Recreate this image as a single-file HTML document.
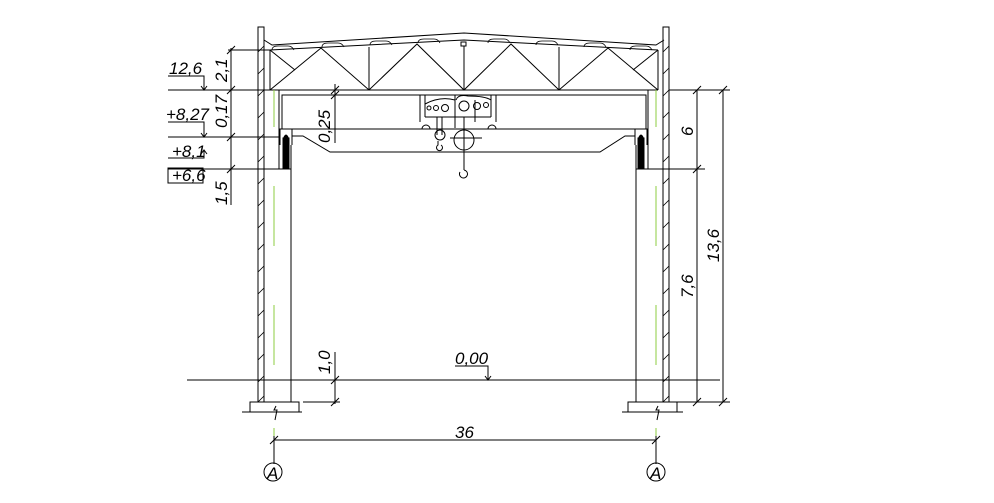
<!DOCTYPE html>
<html><head><meta charset="utf-8"><style>
html,body{margin:0;padding:0;background:#fff}
svg{display:block}
text{font-family:"Liberation Sans",sans-serif;font-style:italic;font-size:17px;fill:#000}
</style></head><body>
<svg width="994" height="503" viewBox="0 0 994 503" xmlns="http://www.w3.org/2000/svg">
<g stroke="#000" stroke-width="1" fill="none">
<!-- walls -->
<rect x="258" y="27" width="6" height="375"/>
<rect x="663" y="27" width="6" height="375"/>
<g stroke-width="0.8">
<path d="M258,52 l6,-6 M258,74 l6,-6 M258,96 l6,-6 M258,118 l6,-6 M258,140 l6,-6 M258,162 l6,-6 M258,184 l6,-6 M258,206 l6,-6 M258,228 l6,-6 M258,250 l6,-6 M258,272 l6,-6 M258,294 l6,-6 M258,316 l6,-6 M258,338 l6,-6 M258,360 l6,-6 M258,382 l6,-6 M258,402 l6,-6"/>
<path d="M663,52 l6,-6 M663,74 l6,-6 M663,96 l6,-6 M663,118 l6,-6 M663,140 l6,-6 M663,162 l6,-6 M663,184 l6,-6 M663,206 l6,-6 M663,228 l6,-6 M663,250 l6,-6 M663,272 l6,-6 M663,294 l6,-6 M663,316 l6,-6 M663,338 l6,-6 M663,360 l6,-6 M663,382 l6,-6 M663,402 l6,-6"/>
</g>
<!-- columns -->
<path d="M264,169 H291 V402 M279,90 V169 M291,145 V169"/>
<path d="M663,169 H636 V402 M648,90 V169 M636,145 V169"/>
<!-- crane rail boxes -->
<path d="M280,145 V129 H292 V145"/>
<path d="M647,145 V129 H635 V145"/>
<rect x="283" y="138" width="6" height="31" fill="#000"/>
<rect x="638" y="138" width="6" height="31" fill="#000"/>
<path d="M283,140 Q286,130 289,140" fill="#000"/>
<path d="M638,140 Q641,130 644,140" fill="#000"/>
<!-- footings -->
<rect x="250" y="402" width="49" height="10"/>
<rect x="628" y="402" width="49" height="10"/>
<path d="M242,412 H302 M622,412 H683"/>
<path d="M276,406 l-2,4 3,0 -2,10 M658,406 l-2,4 3,0 -2,10"/>
<!-- roof -->
<path d="M264,40 L272,45 L464,33 L656,45 L664,40"/>
<path d="M270,50 L464,40 L658,50"/>
<path d="M272,50 q0,-4 6,-4 h10 q4,0 6,4 M322,47 q0,-4 6,-4 h10 q4,0 6,4 M370,45 q0,-4 6,-4 h10 q4,0 6,4 M418,43 q0,-4 6,-4 h10 q4,0 6,4 M488,43 q0,-4 6,-4 h10 q4,0 6,4 M536,45 q0,-4 6,-4 h10 q4,0 6,4 M584,47 q0,-4 6,-4 h10 q4,0 6,4 M630,50 q0,-4 6,-4 h10 q4,0 6,4" stroke-width="0.8"/>
<rect x="461" y="42" width="5" height="4"/>
<!-- truss -->
<path d="M270,90 H658 M270,50 V90 M658,50 V90 M369,47 V90 M464,46 V90 M559,47 V90"/>
<path d="M270,90 L321,48 L369,90 L417,44 L464,90 L511,44 L559,90 L608,48 L658,90"/>
<path d="M270,50 L295,70 M658,50 L633,70"/>
<!-- crane bridge -->
<path d="M282,129 V95 H646 V129"/>
<path d="M292,129 H636"/>
<path d="M292,136 H303 L330,152 H600 L625,136 H635"/>
<!-- trolley -->
<path d="M420,122 V95 M496,122 V95 M425,117 H491 M425,95 V117 M491,95 V117 M455,95 V128 M475,100 V122"/>
<path d="M425,104 Q440,96 455,100 M456,100 Q458,94 468,96 Q485,96 491,100"/>
<circle cx="429" cy="108" r="2"/><circle cx="436" cy="108" r="2.5"/><circle cx="445" cy="108" r="3.5"/>
<circle cx="464" cy="106" r="5"/><circle cx="477" cy="106" r="3.5"/><circle cx="486" cy="105" r="2.5"/>
<path d="M422,129 a4,4 0 1 1 8,0 M488,129 a4,4 0 1 1 8,0"/>
<path d="M437,117 V135 M442,117 V135"/>
<circle cx="440" cy="135" r="5"/>
<path d="M438,141 v4 a3,3 0 1 0 3,0"/>
<circle cx="464" cy="140" r="10"/>
<path d="M450,138 H482 M464,117 V170 M464,170 a4,4 0 1 1 -4,2"/>
<!-- ground -->
<path d="M187,380 H720"/>
<!-- left dimensions -->
<path d="M231,48 V205 M228,50 H270 M168,90 H280 M168,137 H280 M168,169 H264"/>
<path d="M227,54 l8,-8 M227,94 l8,-8 M227,141 l8,-8 M227,173 l8,-8"/>
<path d="M168,76 H204 V90 M201,86 l3,4 3,-4"/>
<path d="M168,122 H204 V137 M201,133 l3,4 3,-4"/>
<path d="M168,158 H204 V150 M201,154 l3,-4 3,4"/>
<rect x="168" y="168" width="35" height="15"/>
<!-- 0,25 -->
<path d="M335,84 V143 M331,94 l8,-8 M331,99 l8,-8"/>
<!-- 1,0 -->
<path d="M335,352 V404 M303,402 H340 M331,384 l8,-8 M331,406 l8,-8"/>
<!-- 0,00 -->
<path d="M455,366 H488 V380 M485,376 l3,4 3,-4"/>
<!-- right dims -->
<path d="M669,90 H730 M652,169 H705 M669,402 H730 M697,90 V402 M723,90 V402"/>
<path d="M693,94 l8,-8 M693,173 l8,-8 M693,406 l8,-8 M719,94 l8,-8 M719,406 l8,-8"/>
<!-- 36 -->
<path d="M274,440 H656 M274,428 V464 M656,428 V464 M270,444 l8,-8 M652,444 l8,-8"/>
<circle cx="273" cy="472" r="9"/>
<circle cx="656" cy="472" r="9"/>
</g>
<!-- green axes -->
<g stroke="#8ccc40" stroke-width="1">
<path d="M274,90 V127 M274,186 V246 M274,305 V365 M274,428 V436"/>
<path d="M656,90 V127 M656,186 V246 M656,305 V365 M656,428 V436"/>
</g>
<!-- labels -->
<text x="169" y="74">12,6</text>
<text x="166" y="120">+8,27</text>
<text x="172" y="157">+8,1</text>
<text x="172" y="181">+6,6</text>
<text transform="translate(227,82) rotate(-90)">2,1</text>
<text transform="translate(227,128) rotate(-90)">0,17</text>
<text transform="translate(227,205) rotate(-90)">1,5</text>
<text transform="translate(330,143) rotate(-90)">0,25</text>
<text transform="translate(330,374) rotate(-90)">1,0</text>
<text transform="translate(693,136) rotate(-90)">6</text>
<text transform="translate(693,298) rotate(-90)">7,6</text>
<text transform="translate(719,262) rotate(-90)">13,6</text>
<text x="455" y="364">0,00</text>
<text x="455" y="438">36</text>
<text x="267" y="479">A</text>
<text x="650" y="479">A</text>
</svg>
</body></html>
